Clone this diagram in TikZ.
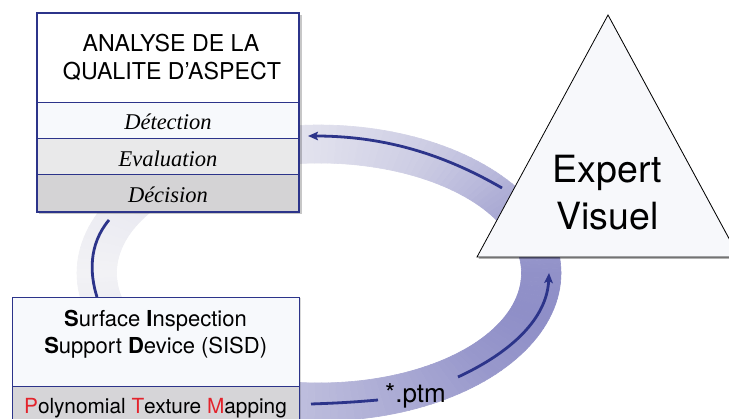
\documentclass[tikz,border=0pt]{standalone}
\usepackage{fontspec}
\setmainfont{TeX Gyre Heros}
\newfontfamily\serifit{Liberation Serif}
\usetikzlibrary{arrows.meta}
\definecolor{navy}{RGB}{44,52,138}
\definecolor{bandp}{RGB}{118,118,188}
\definecolor{bandlight}{RGB}{242,242,245}
\definecolor{rowA}{RGB}{247,249,252}
\definecolor{rowB}{RGB}{233,233,234}
\definecolor{rowC}{RGB}{212,211,213}
\definecolor{ptmfill}{RGB}{214,213,216}
\definecolor{ptmred}{RGB}{227,35,44}
\definecolor{trifill}{RGB}{247,248,251}
\begin{document}
\begin{tikzpicture}[x=1pt,y=-1pt,
  topbox/.style={draw=navy, line width=0.9pt, minimum width=262pt, inner sep=0pt, outer sep=0pt},
  botbox/.style={draw=navy, line width=0.9pt, minimum width=287pt, inner sep=0pt, outer sep=0pt},
  hdrfont/.style={anchor=base, inner sep=0pt, font=\fontsize{23.2}{27}\selectfont},
  rowfont/.style={anchor=base, inner sep=0pt, font=\fontsize{22.5}{26}\selectfont\serifit\itshape},
  sisdfont/.style={anchor=base, inner sep=0pt, font=\fontsize{22}{27}\selectfont},
  ptmfont/.style={anchor=base, inner sep=0pt, font=\fontsize{20.8}{25}\selectfont},
  expfont/.style={anchor=base, inner sep=0pt, font=\fontsize{37.5}{47}\selectfont},
  conn/.style={draw=navy, line width=2.8pt},
  arr/.style={conn, -{Stealth[length=10pt,width=8.5pt,inset=2pt]}}]
\clip (0,0) rectangle (729,419);
\fill[white] (0,0) rectangle (729,419);
% ---- loop band ----
\foreach \aa/\ab/\pa/\pb in {180/150/0/6, 150/120/6/9, 120/95/9/12, 95/80/12/20, 80/63/20/30, 63/45/30/45, 45/35/45/55, 35/15/55/70, 15/0/70/78, 0/-20/78/80, -20/-45/80/72, -45/-70/72/57, -70/-95/57/42, -95/-120/42/25, -120/-150/25/8, -150/-180/8/0}{
  \pgfmathtruncatemacro\nn{max(1,round(abs(\aa-\ab)/2))}
  \foreach \k in {1,...,\nn}{
    \pgfmathsetmacro\sa{\aa+(\ab-\aa)*(\k-1)/\nn}
    \pgfmathsetmacro\ea{\aa+(\ab-\aa)*\k/\nn}
    \pgfmathsetmacro\pc{\pa+(\pb-\pa)*(\k-0.5)/\nn}
    \fill[bandp!\pc!bandlight, draw=bandp!\pc!bandlight, line width=0.6pt]
      ({319+242*cos(\sa)},{273-148*sin(\sa)}) -- ({319+242*cos(\ea)},{273-148*sin(\ea)})
      -- ({319+202.5*cos(\ea)},{273-110*sin(\ea)}) -- ({319+202.5*cos(\sa)},{273-110*sin(\sa)}) -- cycle;
  }
}
% ---- top box ----
\fill[black, opacity=0.22] (39,15.5) rectangle (301.5,214.5);
\node[topbox, fill=white, minimum height=89pt] (hdr) at (168,57.5) {};
\node[topbox, fill=rowA, minimum height=36pt] (det) at (168,120) {};
\node[topbox, fill=rowB, minimum height=36pt] (eva) at (168,156) {};
\node[topbox, fill=rowC, minimum height=38pt] (dec) at (168,193) {};
\draw[navy, line width=1.8pt] (hdr.north west) rectangle (dec.south east);
\node[hdrfont] (hdr1) at (171,51.7) {ANALYSE DE LA};
\node[hdrfont] (hdr2) at (172,79.3) {QUALITE D’ASPECT};
\node[rowfont] (dettxt) at (168,130) {Détection};
\node[rowfont] (evatxt) at (168,166.7) {Evaluation};
\node[rowfont] (dectxt) at (168,202.7) {Décision};
% ---- bottom box ----
\fill[black, opacity=0.15] (13.5,298.5) rectangle (300.5,440);
\node[botbox, fill=rowA, minimum height=89pt] (sisd) at (155.5,341.5) {};
\node[botbox, fill=ptmfill, minimum height=54pt] (ptm) at (155.5,413) {};
\node[sisdfont] (sisd1) at (155.5,326.7) {\textbf{S}urface \textbf{I}nspection};
\node[sisdfont] (sisd2) at (155.7,353.3) {\textbf{S}upport \textbf{D}evice (SISD)};
\node[ptmfont] (ptmtxt) at (155.5,414) {\textcolor{ptmred}{P}olynomial \textcolor{ptmred}{T}exture \textcolor{ptmred}{M}apping};
% ---- triangle ----
\coordinate (apex) at (608,15);
\coordinate (tl) at (477,257);
\coordinate (tr) at (739,257);
\fill[black, opacity=0.3] ([shift={(1.5,2)}]apex) -- ([shift={(1.5,2)}]tl) -- ([shift={(1.5,2)}]tr) -- cycle;
\filldraw[fill=trifill, draw=black, line width=0.8pt, line join=miter] (apex) -- (tl) -- (tr) -- cycle;
\node[expfont] (exp1) at (607.5,183) {Expert};
\node[expfont] (exp2) at (607.5,230) {Visuel};
% ---- connectors ----
\coordinate (ta-s) at (502,188);
\coordinate (ta-e) at (308,136);
\draw[arr] (ta-s) .. controls (440,152) and (380,136) .. (ta-e);
\coordinate (lc-s) at (109,220);
\coordinate (lc-e) at (97,297);
\draw[conn] (lc-s) .. controls (88,245) and (90,275) .. (lc-e);
\node[anchor=base, inner sep=0pt, font=\fontsize{26}{30}\selectfont] (ptmlbl) at (415.5,403) {*.ptm};
\coordinate (ba-s) at (311,404);
\coordinate (ba-m1) at (378,400);
\coordinate (ba-m2) at (458,377);
\coordinate (ba-e) at (549,273);
\draw[conn] (ba-s) .. controls (340,403) and (355,402) .. (ba-m1);
\draw[arr] (ba-m2) .. controls (512,352) and (547,318) .. (ba-e);
\end{tikzpicture}
\end{document}
